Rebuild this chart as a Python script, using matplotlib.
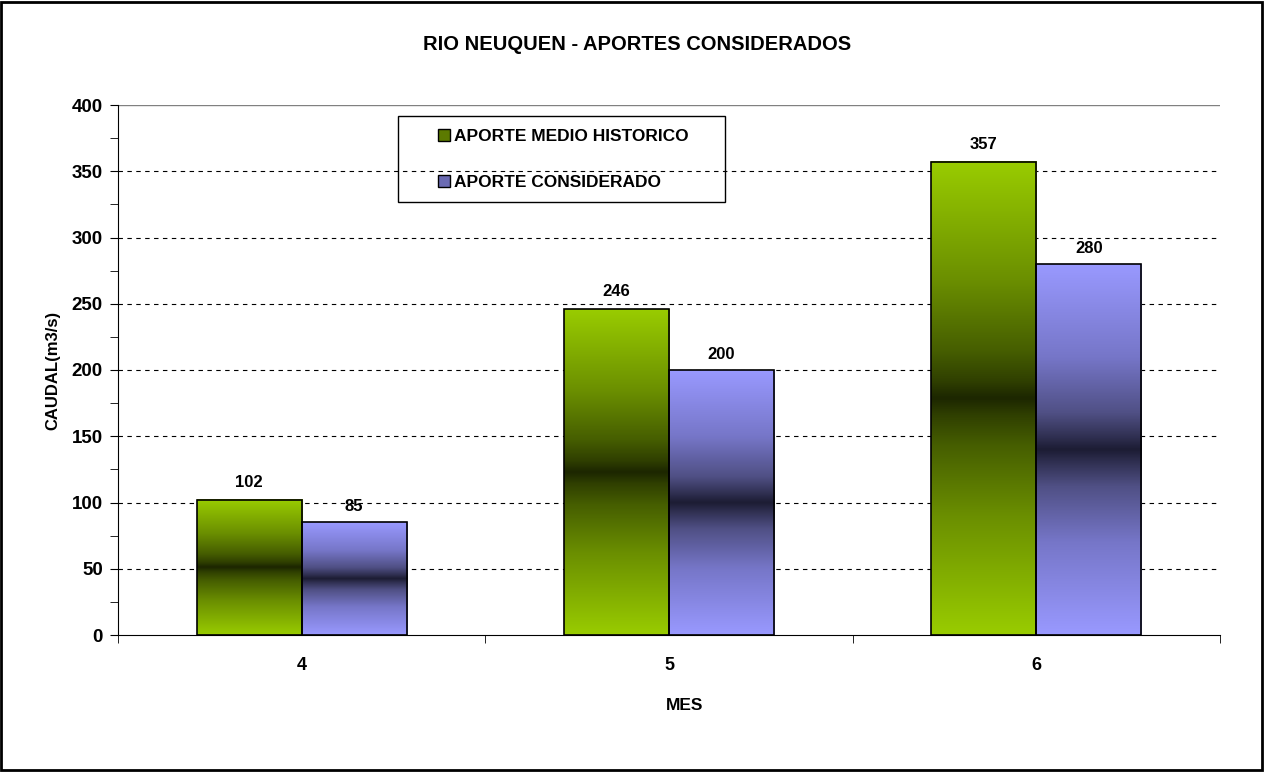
import numpy as np
import matplotlib.pyplot as plt
from matplotlib.patches import Rectangle
from matplotlib.colors import LinearSegmentedColormap

plt.rcParams['font.family'] = ['Liberation Sans', 'DejaVu Sans']
plt.rcParams['font.weight'] = 'bold'

meses = ['4', '5', '6']
historico = [102, 246, 357]
considerado = [85, 200, 280]
series = ['APORTE MEDIO HISTORICO', 'APORTE CONSIDERADO']

# gradient stops from bar edge (0) to bar centre (1)
stops = [0.0, 0.5, 0.8, 0.93, 1.0]
green = ['#99cc00', '#6b8f00', '#465e00', '#2f3f00', '#1c2600']
purple = ['#9999ff', '#7676c8', '#505085', '#303052', '#1c1c33']

fig = plt.figure(figsize=(12.65, 7.72), dpi=100)
ax = fig.add_axes([118/1265, 1-635/772, 1102/1265, 530/772])

x = np.arange(1, len(meses)+1)
w = 0.286


def grad_bar(ax, x0, h, cols):
    # symmetric gradient: edge colour at top and bottom, dark band in the middle
    pos = [s/2 for s in stops] + [1 - s/2 for s in stops[::-1][1:]]
    cl = cols + cols[::-1][1:]
    cmap = LinearSegmentedColormap.from_list('g', list(zip(pos, cl)))
    grad = np.linspace(0, 1, 256).reshape(-1, 1)
    ax.imshow(grad, cmap=cmap, aspect='auto', extent=(x0, x0+w, 0, h),
              origin='lower', zorder=2)
    ax.add_patch(Rectangle((x0, 0), w, h, fill=False, ec='black', lw=1.2, zorder=3))


for i in range(len(meses)):
    grad_bar(ax, x[i]-w, historico[i], green)
    grad_bar(ax, x[i], considerado[i], purple)
    ax.annotate(str(historico[i]), (x[i]-w/2, historico[i]), xytext=(0, 7),
                textcoords='offset points', ha='center', va='bottom', fontsize=12, fontweight='bold')
    ax.annotate(str(considerado[i]), (x[i]+w/2, considerado[i]), xytext=(0, 6),
                textcoords='offset points', ha='center', va='bottom', fontsize=12, fontweight='bold')

ax.set_xlim(0.5, 3.5)
ax.set_ylim(0, 400)
ax.set_yticks(np.arange(0, 401, 50))
ax.set_yticks(np.arange(25, 400, 50), minor=True)
ax.set_xticks(x)
ax.set_xticklabels(meses)
ax.set_xticks([0.5, 1.5, 2.5, 3.5], minor=True)
ax.tick_params(axis='x', which='major', length=0, pad=16, labelsize=13)
ax.tick_params(axis='x', which='minor', length=6, direction='out')
ax.tick_params(axis='y', which='both', length=6, direction='out', labelsize=13.5, pad=5)
for lab in ax.get_xticklabels() + ax.get_yticklabels():
    lab.set_fontweight('bold')

for v in np.arange(50, 400, 50):
    ax.axhline(v, color='black', lw=0.8, ls=(0, (4, 4)), zorder=1)
ax.axhline(400, color='gray', lw=1.0, zorder=1)

ax.spines['top'].set_visible(False)
ax.spines['right'].set_visible(False)
ax.spines['left'].set_zorder(4)
ax.spines['bottom'].set_zorder(4)

ax.set_ylabel('CAUDAL(m3/s)', fontsize=12, fontweight='bold', labelpad=8)
fig.text(685/1265, 1-705/772, 'MES', ha='center', va='center', fontsize=12.5, fontweight='bold')
fig.text(637/1265, 1-45/772, 'RIO NEUQUEN - APORTES CONSIDERADOS',
         ha='center', va='center', fontsize=14.5, fontweight='bold')

# legend box drawn separately, entries placed inside it
fig.add_artist(Rectangle((398/1265, 1-202/772), 327/1265, 86/772, transform=fig.transFigure,
                         fill=False, ec='black', lw=1.0))
handles = [Rectangle((0, 0), 1, 1, fc='#5c7a00', ec='black', lw=1),
           Rectangle((0, 0), 1, 1, fc='#6b6bb3', ec='black', lw=1)]
fig.legend(handles, series, loc='center left', bbox_to_anchor=(438/1265, 1-159.5/772),
           frameon=False, prop={'size': 12.5, 'weight': 'bold'}, handlelength=0.7,
           handleheight=0.7, handletextpad=0.25, labelspacing=1.75, borderpad=0,
           borderaxespad=0)

# outer border
fig.add_artist(Rectangle((0.001, 0.002), 0.997, 0.996, transform=fig.transFigure,
                         fill=False, ec='black', lw=2))

fig.savefig('out.png', dpi=100)
